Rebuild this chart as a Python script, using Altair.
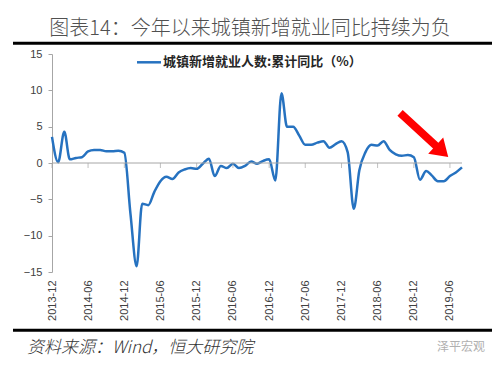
import altair as alt
import pandas as pd

# ---- data ----
start_month = "2013-12-01"
n_months = 69
values = [3.6, 0.1, 4.3, 0.5, 0.7, 0.8, 1.6, 1.8, 1.8, 1.6, 1.6, 1.7, 1.4,
          -7.0, -14.2, -5.6, -5.8, -4.0, -2.5, -1.9, -2.2, -1.3, -0.9, -0.7, -0.8,
          -0.1, 0.6, -1.8, -0.4, -0.7, -0.1, -0.7, -0.4, 0.2, -0.1, 0.3, 0.5,
          -2.4, 9.6, 5.0, 5.0, 3.8, 2.5, 2.5, 2.8, 3.0, 2.1, 2.6, 3.0,
          1.5, -6.3, -1.0, 1.5, 2.5, 2.4, 3.0, 1.8, 1.2, 1.0, 1.1, 0.8,
          -2.3, -1.1, -1.7, -2.5, -2.5, -1.8, -1.3, -0.6]
y_ticks = [-15, -10, -5, 0, 5, 10, 15]
x_tick_months = ["2013-12", "2014-06", "2014-12", "2015-06", "2015-12", "2016-06",
                 "2016-12", "2017-06", "2017-12", "2018-06", "2018-12", "2019-06"]
title_text = "图表14：今年以来城镇新增就业同比持续为负"
legend_text = "城镇新增就业人数:累计同比（%）"
source_text = "资料来源：Wind，恒大研究院"
watermark_text = "泽平宏观"
arrow_center = {"d": "2019-01-22T00:00:00", "v": 3.85}

months = pd.date_range(start_month, periods=n_months, freq="MS")
df = pd.DataFrame({"d": [m.strftime("%Y-%m-%dT00:00:00") for m in months], "v": values})
ticks_df = pd.DataFrame({"d": [m + "-01T00:00:00" for m in x_tick_months], "v": [0] * len(x_tick_months)})
zero_df = pd.DataFrame({"v": [0]})
arrow_df = pd.DataFrame([arrow_center])
one = pd.DataFrame({"a": [0]})

W, H = 410, 218
LINE_COLOR = "#2672C0"
GRAY = "#A6A6A6"
TXT = "#404040"

def dt(s):
    y, m = s.split("-")[:2]
    return alt.DateTime(year=int(y), month=int(m), date=1)

xscale = alt.Scale(domain=[dt("2013-12"), dt("2019-08")], nice=False)
yscale = alt.Scale(domain=[-15, 15], nice=False)

x_axis = alt.Axis(values=[dt(m) for m in x_tick_months], format="%Y-%m",
                  labelAngle=-90, domain=False, ticks=False, grid=False,
                  labelOverlap=False, labelBound=False, labelFlush=False,
                  labelPadding=8, labelFont="Liberation Sans", labelFontSize=11,
                  labelColor=TXT)
y_axis = alt.Axis(values=y_ticks, grid=False, domainColor=GRAY, tickColor=GRAY,
                  labelOverlap=False, labelBound=False, labelFlush=False,
                  tickSize=4, labelPadding=6, labelFont="Liberation Sans",
                  labelFontSize=11, labelColor=TXT)

def X():
    return alt.X("d:T", scale=xscale, title=None, axis=x_axis)

def Y():
    return alt.Y("v:Q", scale=yscale, title=None, axis=y_axis)

main = alt.Chart(df).mark_line(color=LINE_COLOR, strokeWidth=2.5, interpolate="monotone").encode(
    x=X(), y=Y())

zero = alt.Chart(zero_df).mark_rule(color=GRAY, strokeWidth=1).encode(y=Y())

xticks = alt.Chart(ticks_df).mark_tick(color=GRAY, orient="vertical", size=5, thickness=1,
                                       yOffset=2.5).encode(x=X(), y=Y())

arrow_path = "M-1,-0.12L0.48,-0.12L0.48,-0.34L1,0L0.48,0.34L0.48,0.12L-1,0.12Z"
arrow = alt.Chart(arrow_df).mark_point(shape=arrow_path, filled=True, color="#FF0000",
                                       opacity=1, size=4265, angle=42.5, strokeWidth=0).encode(
    x=X(), y=Y())

legend_line = alt.Chart(one).mark_rule(color=LINE_COLOR, strokeWidth=2.5).encode(
    x=alt.value(85), x2=alt.value(109), y=alt.value(8.3))
legend_lbl = alt.Chart(one).mark_text(text=legend_text, align="left", baseline="middle",
                                      font="Noto Sans CJK SC", fontWeight="bold", fontSize=13,
                                      color="#262626").encode(x=alt.value(111), y=alt.value(8.3))

title = alt.Chart(one).mark_text(text=title_text, align="center", baseline="middle",
                                 font="Noto Sans CJK SC", fontSize=20, fontWeight=300,
                                 color="#505050").encode(
    x=alt.value(198), y=alt.value(-24.7))
top_bar = alt.Chart(one).mark_rule(color="#000000", strokeWidth=3).encode(
    x=alt.value(-39), x2=alt.value(440), y=alt.value(-10.7))
bot_bar = alt.Chart(one).mark_rule(color="#000000", strokeWidth=3).encode(
    x=alt.value(-39), x2=alt.value(440), y=alt.value(276.3))
source = alt.Chart(one).mark_text(text=source_text, align="left", baseline="middle",
                                  font="Noto Sans CJK SC", fontSize=17, fontStyle="italic",
                                  fontWeight=300, color="#333333").encode(
    x=alt.value(-25), y=alt.value(293.6))
water = alt.Chart(one).mark_text(text=watermark_text, align="left", baseline="middle",
                                 font="Noto Sans CJK SC", fontSize=12, color="#B0B0B0").encode(
    x=alt.value(385), y=alt.value(293.3))

chart = alt.layer(main, zero, xticks, arrow, legend_line, legend_lbl, title, top_bar, bot_bar,
                  source, water).properties(
    width=W, height=H,
    autosize=alt.AutoSizeParams(type="none"),
    padding={"left": 44, "top": 46, "right": 30, "bottom": 86},
    background="white",
).configure_view(stroke=None)

chart.save("out.html", embed_options={"renderer": "svg", "actions": False})
